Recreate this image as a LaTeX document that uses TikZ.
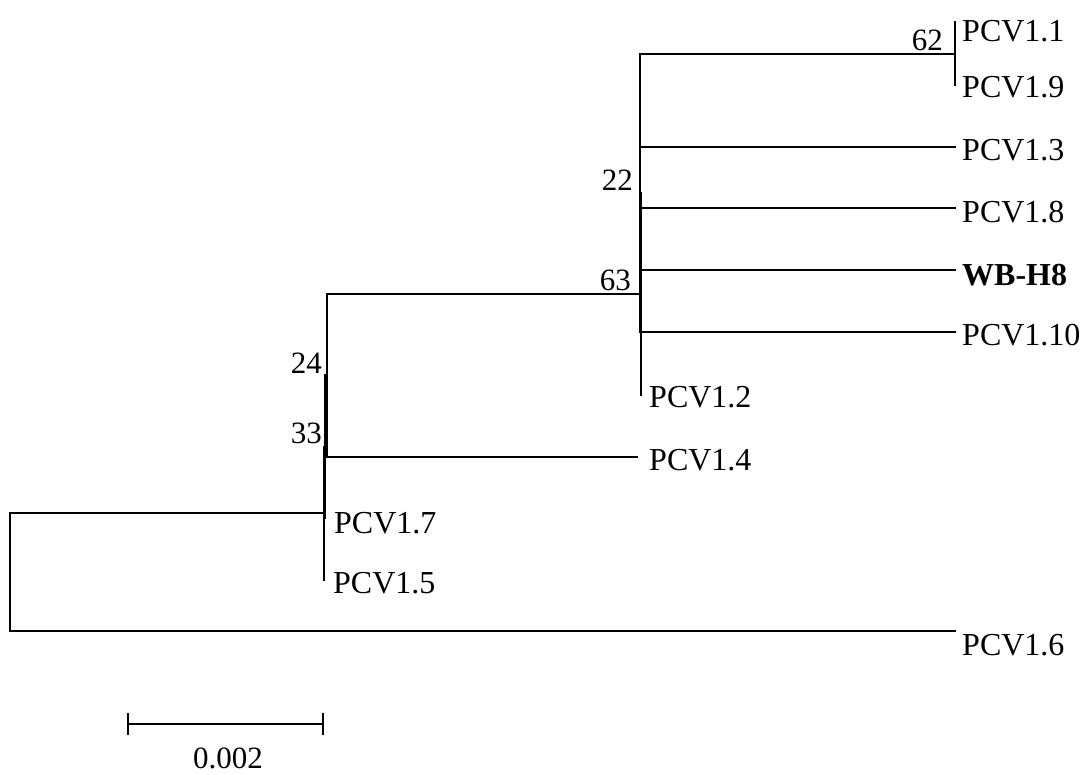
\documentclass[tikz,border=0pt]{standalone}
\usepackage{fontspec}
\setmainfont{Liberation Serif}
\begin{document}
\begin{tikzpicture}[x=1pt,y=-1pt,
  branch/.style={line width=2pt,line cap=rect},
  taxon/.style={anchor=base west,inner sep=0pt,font=\fontsize{32}{38}\selectfont},
  support/.style={anchor=base east,inner sep=0pt,font=\fontsize{31}{37}\selectfont}]
\useasboundingbox (0,0) rectangle (1092,774);

% internal nodes (at the midpoint of their vertical bars)
\coordinate (root) at (10,572);
\coordinate (ing)  at (324,513);
\coordinate (n33)  at (325,446.5);
\coordinate (n24)  at (327,375);
\coordinate (n63)  at (641,293.5);
\coordinate (n22)  at (640,192.5);
\coordinate (n62)  at (955,53.5);

% leaf tips
\coordinate (t11) at (955,22);
\coordinate (t19) at (955,85);
\coordinate (t13) at (955,147);
\coordinate (t18) at (955,208);
\coordinate (twb) at (955,270);
\coordinate (t110) at (955,332);
\coordinate (t12) at (641,395);
\coordinate (t14) at (637,457);
\coordinate (t17) at (325,518);
\coordinate (t15) at (324,580);
\coordinate (t16) at (955,631);

% branches
\draw[branch] (root) |- (ing);
\draw[branch] (root) |- (t16);
\draw[branch] (ing) |- (n33);
\draw[branch] (ing) |- (t15);
\draw[branch] (n33) |- (n24);
\draw[branch] (n33) |- (t17);
\draw[branch] (n24) |- (n63);
\draw[branch] (n24) |- (t14);
\draw[branch] (n63) |- (n22);
\draw[branch] (n63) |- (t12);
\draw[branch] (n22) |- (n62);
\draw[branch] (n22) |- (t13);
\draw[branch] (n22) |- (t18);
\draw[branch] (n22) |- (twb);
\draw[branch] (n22) |- (t110);
\draw[branch] (n62) |- (t11);
\draw[branch] (n62) |- (t19);

% taxon labels
\node[taxon] (l11) at (962,41) {PCV1.1};
\node[taxon] (l19) at (962,97) {PCV1.9};
\node[taxon] (l13) at (962,160) {PCV1.3};
\node[taxon] (l18) at (962,222) {PCV1.8};
\node[taxon,font=\fontsize{32}{38}\selectfont\bfseries] (lwb) at (962,285) {WB-H8};
\node[taxon] (l110) at (962,345) {PCV1.10};
\node[taxon] (l12) at (649,407) {PCV1.2};
\node[taxon] (l14) at (649,470) {PCV1.4};
\node[taxon] (l17) at (334,533) {PCV1.7};
\node[taxon] (l15) at (333,593) {PCV1.5};
\node[taxon] (l16) at (962,655) {PCV1.6};

% bootstrap support values
\node[support] (s62) at (943,50) {62};
\node[support] (s22) at (633,190) {22};
\node[support] (s63) at (631,290) {63};
\node[support] (s24) at (322,373) {24};
\node[support] (s33) at (322,443) {33};

% scale bar
\coordinate (sbl) at (128,724);
\coordinate (sbr) at (323,724);
\draw[branch,line cap=butt] (sbl) -- (sbr);
\draw[branch,line cap=butt] ([yshift=-11pt]sbl) -- ([yshift=11pt]sbl);
\draw[branch,line cap=butt] ([yshift=-11pt]sbr) -- ([yshift=11pt]sbr);
\node[anchor=base,inner sep=0pt,font=\fontsize{31}{37}\selectfont] (sbtext) at (228,768) {0.002};
\end{tikzpicture}
\end{document}
